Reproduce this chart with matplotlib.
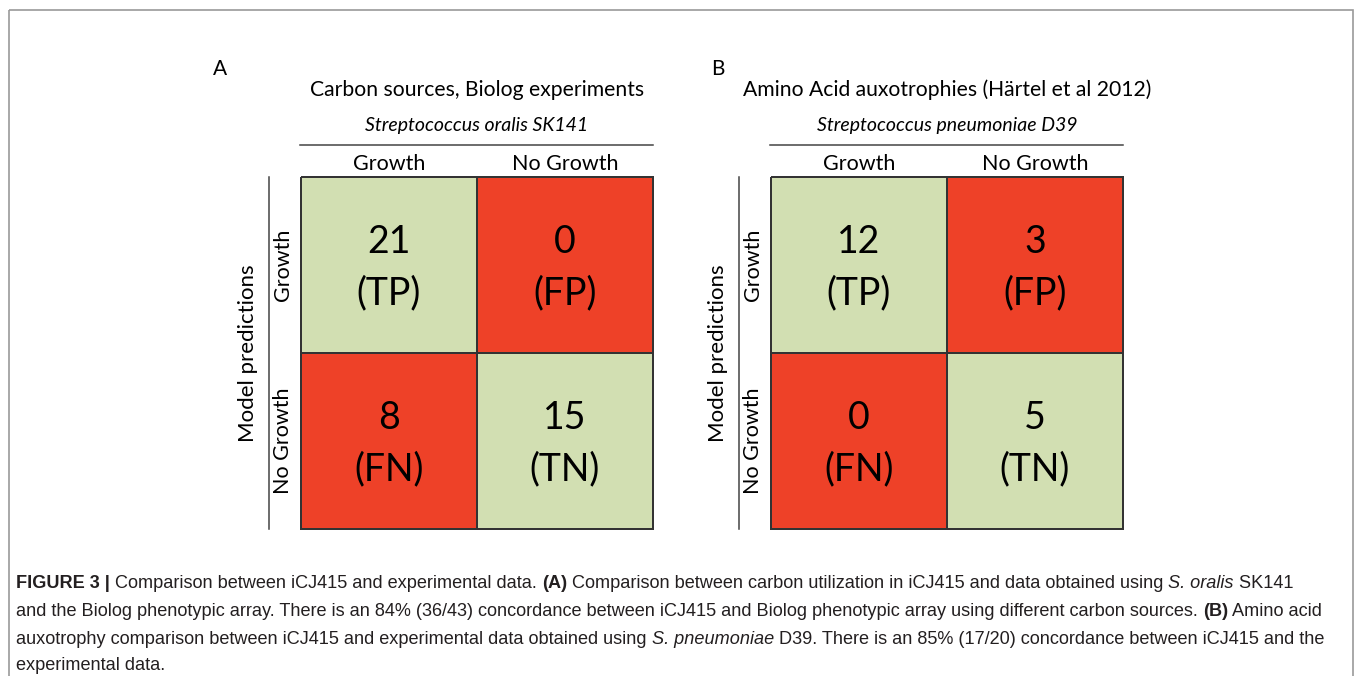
import numpy as np
import matplotlib
matplotlib.use("Agg")
import matplotlib.pyplot as plt
from matplotlib.colors import ListedColormap

# --- data -------------------------------------------------------------------
panel_letters = ["A", "B"]
panel_titles = ["Carbon sources, Biolog experiments",
                "Amino Acid auxotrophies (Härtel et al 2012)"]
panel_organisms = ["Streptococcus oralis SK141",
                   "Streptococcus pneumoniae D39"]
col_labels = ["Growth", "No Growth"]
row_labels = ["Growth", "No Growth"]
row_axis_label = "Model predictions"
counts_a = [[21, 0], [8, 15]]
counts_b = [[12, 3], [0, 5]]
outcome_labels = [["TP", "FP"], ["FN", "TN"]]
# 1 = model agrees with experiment (green), 0 = disagrees (red)
agreement = [[1, 0], [0, 1]]

caption_lines = [
    [("FIGURE 3 | ", "bold", "normal"),
     ("Comparison between iCJ415 and experimental data. ", "normal", "normal"),
     ("(A)", "bold", "normal"),
     (" Comparison between carbon utilization in iCJ415 and data obtained using ", "normal", "normal"),
     ("S. oralis", "normal", "italic"),
     (" SK141", "normal", "normal")],
    [("and the Biolog phenotypic array. There is an 84% (36/43) concordance between iCJ415 and Biolog "
      "phenotypic array using different carbon sources. ", "normal", "normal"),
     ("(B)", "bold", "normal"),
     (" Amino acid", "normal", "normal")],
    [("auxotrophy comparison between iCJ415 and experimental data obtained using ", "normal", "normal"),
     ("S. pneumoniae", "normal", "italic"),
     (" D39. There is an 85% (17/20) concordance between iCJ415 and the", "normal", "normal")],
    [("experimental data.", "normal", "normal")],
]

# --- layout (pixels) --------------------------------------------------------
W, H = 1355, 676
green = "#d2dfb2"
red = "#ee4128"
chart_font = ["Lato", "DejaVu Sans"]
cap_font = ["Liberation Sans", "DejaVu Sans"]

fig = plt.figure(figsize=(W / 100, H / 100), dpi=100)
ax = fig.add_axes([0, 0, 1, 1])
ax.set_xlim(0, W)
ax.set_ylim(H, 0)
ax.axis("off")

# outer frame
ax.add_patch(plt.Rectangle((9, 10), 1344, 700, fill=False, ec="#9a9a9a", lw=1.2))

cmap = ListedColormap([red, green])
panel_x0 = [301, 771]
letter_x = [220, 718]
cell = 176
top = 177

for p, counts in enumerate([counts_a, counts_b]):
    x0 = panel_x0[p]
    xs = x0 + cell * np.arange(3)
    ys = top + cell * np.arange(3)
    ax.pcolormesh(xs, ys, np.array(agreement), cmap=cmap, vmin=0, vmax=1,
                  edgecolors="#333333", linewidth=1.2)
    xc = x0 + cell * (np.arange(2) + 0.5)
    yc = top + cell * (np.arange(2) + 0.5)
    for i in range(2):
        for j in range(2):
            ax.text(xc[j], yc[i] - 23, str(counts[i][j]), ha="center", va="center",
                    fontsize=27, family=chart_font, color="black")
            ax.text(xc[j], yc[i] + 28, "(%s)" % outcome_labels[i][j], ha="center",
                    va="center", fontsize=27, family=chart_font, color="black")
        ax.text(xc[i], 164, col_labels[i], ha="center", va="center",
                fontsize=15.5, family=chart_font)
        ax.text(x0 - 18, yc[i], row_labels[i], ha="center", va="center",
                rotation=90, fontsize=15.5, family=chart_font)
    # header and side rules
    ax.plot([x0 - 1, x0 + 2 * cell], [145, 145], color="#444444", lw=1.1)
    ax.plot([x0 - 32, x0 - 32], [top, top + 2 * cell], color="#444444", lw=1.1)
    ax.text(x0 - 53, top + cell, row_axis_label, ha="center", va="center",
            rotation=90, fontsize=16, family=chart_font)
    ax.text(x0 + cell, 90, panel_titles[p], ha="center", va="center",
            fontsize=15.2, family=chart_font)
    ax.text(x0 + cell, 125, panel_organisms[p], ha="center", va="center",
            fontsize=14, family=chart_font, style="italic")
    ax.text(letter_x[p], 69, panel_letters[p], ha="center", va="center",
            fontsize=15, family=chart_font)

# caption, drawn run by run
fig.canvas.draw()
renderer = fig.canvas.get_renderer()
inv = ax.transData.inverted()
cap_y = [583, 611, 639, 666]
for line, y in zip(caption_lines, cap_y):
    x = 16
    for txt, weight, style in line:
        t = ax.text(x, y, txt, ha="left", va="center", fontsize=13.1,
                    family=cap_font, weight=weight, style=style, color="#231f20")
        bb = t.get_window_extent(renderer)
        x = inv.transform((bb.x1, bb.y0))[0]

fig.savefig("out.png", dpi=100)
